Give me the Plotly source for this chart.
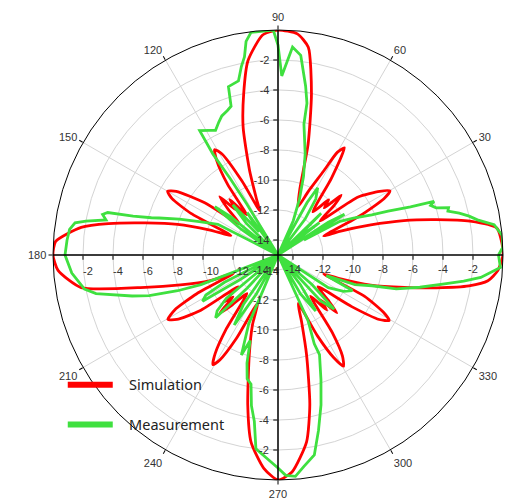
import plotly.graph_objects as go

# ---------------- data ----------------
sim_angle = [0, 3, 7, 10, 12.6, 15.3, 18, 21, 22.5, 25.5, 28, 29.8, 32, 35.9, 39, 41.5, 43.5, 45.5, 47.5, 51,
             55.2, 58.2, 60, 61.5, 64.5, 67.5, 71.8, 74.8, 78.3, 81.7, 85, 90,
             94, 98.8, 102, 105.3, 108.5, 111, 112.5, 116, 119, 121, 123, 125.5, 128, 131, 133, 135, 137.5, 141,
             144.5, 148, 150, 152, 154.5, 157.5, 160, 163, 166.4, 169.5, 172, 176.5, 180,
             184, 189.4, 193.7, 197, 200.6, 202.5, 205.5, 208, 210.3, 212.5, 215.5, 218.5, 221, 223, 225, 227.5,
             231, 235, 237.5, 239.3, 241, 243.5, 247, 250, 253.9, 258.6, 261.8, 266.2, 270,
             273.7, 278.7, 282, 286, 289.5, 292.6, 296, 298.5, 300.5, 302.5, 305, 308.5, 311.5, 313.5, 315.5, 318,
             321.5, 325, 327.5, 329.5, 331.5, 334.5, 337.5, 339, 342, 345.6, 348.3, 350.8, 353, 356, 360]
sim_db = [0, -0.05, -0.3, -2.0, -4.2, -6.3, -8.5, -10.6, -11.7, -9.0, -7.0, -6.4, -7.0, -8.4, -11.4, -10.0, -9.2, -10.6, -10.0, -11.3,
          -8.75, -6.6, -7.1, -8.65, -10.3, -11.5, -10.3, -7.35, -4.0, -1.0, -0.2, 0,
          -0.3, -1.9, -4.0, -6.2, -9.0, -11.0, -11.8, -9.5, -7.3, -6.8, -7.5, -9.2, -11.6, -10.1, -10.9, -9.5, -10.5, -11.7,
          -9.0, -7.0, -6.5, -7.0, -8.6, -11.6, -10.1, -8.0, -5.9, -3.5, -1.75, -0.15, 0,
          -0.3, -1.7, -5.9, -8.2, -10.1, -11.8, -9.0, -7.2, -6.5, -7.0, -8.6, -11.6, -10.2, -10.9, -9.5, -10.5,
          -11.7, -9.0, -7.2, -6.5, -7.0, -8.8, -11.5, -10.0, -8.1, -4.8, -2.4, -0.75, 0,
          -0.5, -2.4, -4.8, -8.1, -10.3, -11.5, -9.0, -7.2, -6.4, -7.0, -8.7, -11.5, -10.1, -10.9, -9.5, -10.5,
          -11.6, -9.0, -7.0, -6.4, -7.0, -8.6, -11.7, -10.6, -8.5, -6.3, -4.2, -2.1, -0.9, -0.3, 0]

meas_angle = [0, 2, 5, 8, 10, 11.5, 13, 14.5, 15.5, 16.6, 18, 19, 20, 21.7, 23.2, 26, 28.5, 30, 31.5, 33, 35, 38, 41, 44,
              48, 53, 56, 59.4, 61, 63, 66, 69, 72, 75, 78.8, 79.2, 80.7, 83.5, 86, 88.8, 90, 91.2, 96.9,
              98.5, 99.6, 101, 102.8, 106.4, 107.5, 109.4, 112, 114, 116.6, 119, 122.2, 122.8, 122, 121.5, 122, 126,
              129, 132, 135, 138, 141, 142.6, 145, 149, 153, 157, 160, 162.7, 163.6, 165, 166, 167, 168.5, 170, 171,
              173, 176, 180,
              185, 190, 192, 195.7, 197.5, 199.6, 201, 203, 207, 209, 211.5, 213, 216, 220, 222.5, 225.2, 227, 230,
              235, 238, 241, 244, 247, 249.9, 252, 254, 256, 258.2, 260, 261.9, 263.5, 267, 270, 272, 274.5,
              277, 280.3, 283, 286, 289, 292.6, 292.2, 294.6, 296, 300, 304, 307, 310, 313, 316, 319, 322, 327, 331,
              334.5, 337, 339, 341.9, 344, 347.2, 350, 352, 353.7, 356.8, 360]
meas_db = [-0.3, 0, 0, -0.45, -1.5, -2.0, -2.6, -3.3, -3.2, -4.0, -4.3, -4.0, -5.6, -7.1, -8.2, -9.4, -10.3, -13, -9.8, -11, -15, -11.5, -13.5, -11,
           -15, -12, -10.5, -9.8, -11, -15, -12.5, -11, -9.5, -8, -6.1, -4.7, -3.6, -1.6, -1.1, -3.06, -1.0, 0, -0.05,
           -0.6, -1.6, -2.2, -3.1, -3.3, -4.6, -4.8, -5.0, -5.3, -5.7, -5.5, -5.2, -7.0, -9.0, -11, -15, -11.5,
           -13, -10.5, -12, -15, -11, -9.7, -12, -15, -10.5, -9.3, -8.0, -6.7, -6.2, -5.0, -3.3, -3.0, -3.3, -2.0, -1.3,
           -1.0, -0.9, -0.8,
           -1.2, -1.9, -2.6, -4.9, -6.0, -7.9, -9.5, -15, -11, -9.5, -9.1, -12, -15, -10.5, -9.5, -9.1, -12, -15,
           -11, -9.5, -12, -15, -10, -7.9, -9, -7.5, -6.5, -6.2, -4.8, -3.8, -2.0, -1.4, -0.8, -0.3, -0.2,
           -0.8, -1.45, -3.0, -4.6, -6.2, -7.8, -8.6, -10.2, -15, -12, -10.5, -12.5, -15, -10.8, -9.8, -12, -15, -11, -10,
           -9.5, -11.5, -9.5, -8.4, -6.8, -5.3, -3.85, -2.5, -1.4, -0.15, -0.3]

series_names = ["Simulation", "Measurement"]
series_colors = ["#FF0000", "#3FE03F"]

angle_ticks = [30, 60, 90, 120, 150, 180, 210, 240, 270, 300, 330]
angle_labels = ["30", "60", "90", "120", "150", "180", "210", "240", "270", "300", "330"]
radial_ticks = [-14, -12, -10, -8, -6, -4, -2]
radial_labels = ["-14", "-12", "-10", "-8", "-6", "-4", "-2"]
r_range = [-15, 0]

# ---------------- figure ----------------
W, H = 523, 501
cx, cy, R = 278, 255, 225
dom_x = [(cx - R) / W, (cx + R) / W]
dom_y = [(H - cy - R) / H, (H - cy + R) / H]

fig = go.Figure()

fig.add_trace(go.Scatterpolar(r=sim_db, theta=sim_angle, mode="lines", subplot="polar",
                              line=dict(color=series_colors[0], width=2.8, shape="spline", smoothing=0.6),
                              showlegend=False, hoverinfo="skip"))
fig.add_trace(go.Scatterpolar(r=meas_db, theta=meas_angle, mode="lines", subplot="polar",
                              line=dict(color=series_colors[1], width=2.8),
                              showlegend=False, hoverinfo="skip"))
# legend entries (thick sample lines like the original)
pad = "\u00a0\u00a0\u00a0"
for i, nm in enumerate(series_names):
    fig.add_trace(go.Scatterpolar(r=[None], theta=[None], mode="lines", subplot="polar", name=pad + nm,
                                  legendgroup=nm, line=dict(color=series_colors[i], width=6)))

tick_font = dict(family="Liberation Sans, Arial", size=11, color="#333333")
grid_c = "#d4d4d4"

fig.update_layout(
    width=W, height=H,
    margin=dict(l=0, r=0, t=0, b=0),
    paper_bgcolor="white",
    polar=dict(
        domain=dict(x=dom_x, y=dom_y),
        bgcolor="white",
        angularaxis=dict(direction="counterclockwise", rotation=0,
                         tickvals=angle_ticks, ticktext=angle_labels,
                         showline=True, linecolor="black", linewidth=1,
                         showgrid=True, gridcolor=grid_c, gridwidth=1,
                         ticks="outside", ticklen=4, tickcolor="black",
                         tickfont=tick_font),
        radialaxis=dict(range=r_range, tickvals=radial_ticks, ticktext=radial_labels,
                        angle=180, side="counterclockwise", tickangle=180,
                        showline=True, linecolor="black", linewidth=1.5,
                        showgrid=True, gridcolor=grid_c, gridwidth=1,
                        ticks="outside", ticklen=4, tickcolor="black",
                        tickfont=tick_font),
    ),
    legend=dict(x=0.120, y=0.264, xanchor="left", yanchor="top",
                bgcolor="rgba(0,0,0,0)", tracegroupgap=18, itemwidth=45,
                font=dict(family="Noto Sans, Open Sans", size=14.5, color="#222222")),
    showlegend=True,
)

# extra radial axes (Origin-style cross axes) at 0, 90 and 270 degrees
for name, ang, side, tang in [("polar2", 0, "clockwise", 0), ("polar3", 90, "counterclockwise", 90),
                              ("polar4", 270, "clockwise", -90)]:
    fig.add_trace(go.Scatterpolar(r=[None], theta=[None], mode="lines", subplot=name,
                                  showlegend=False, hoverinfo="skip"))
    fig.update_layout(**{name: dict(
        domain=dict(x=dom_x, y=dom_y),
        bgcolor="rgba(0,0,0,0)",
        angularaxis=dict(direction="counterclockwise", rotation=0, showline=False,
                         showgrid=False, showticklabels=False, ticks=""),
        radialaxis=dict(range=r_range, tickvals=radial_ticks, ticktext=radial_labels,
                        angle=ang, side=side, tickangle=tang,
                        showline=True, linecolor="black", linewidth=1.5,
                        showgrid=False, ticks="outside", ticklen=4, tickcolor="black",
                        tickfont=tick_font),
    )})

fig.write_html("out.html", config={"displayModeBar": False},
               post_script="document.body.style.margin='0';")
